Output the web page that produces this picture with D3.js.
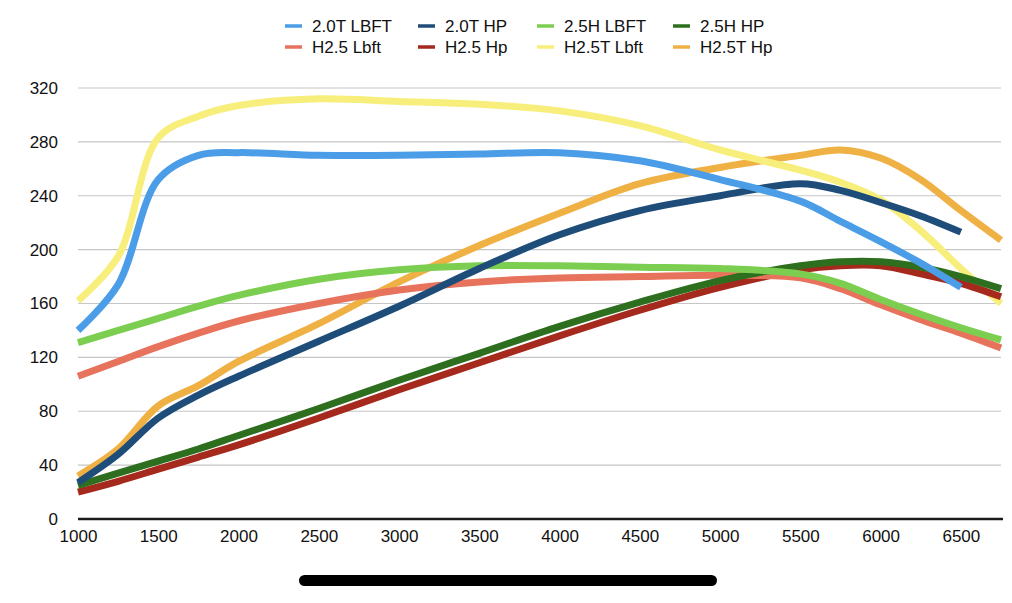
<!DOCTYPE html>
<html>
<head>
<meta charset="utf-8">
<script src="https://cdn.jsdelivr.net/npm/d3@7"></script>
<style>
  html, body { margin: 0; padding: 0; background: #fff; }
  svg { display: block; font-family: "Liberation Sans", Arial, Helvetica, sans-serif; }
</style>
</head>
<body>
<svg id="chart" width="1012" height="603"></svg>
<script>
// ---- data ----
const rpm = [1000, 1250, 1500, 1750, 2000, 2500, 3000, 3500, 4000, 4500, 5000, 5500, 5750, 6000, 6250, 6500, 6750];

const seriesNames = ["2.0T LBFT", "2.0T HP", "2.5H LBFT", "2.5H HP", "H2.5 Lbft", "H2.5 Hp", "H2.5T Lbft", "H2.5T Hp"];
const seriesColors = ["#4a9de6", "#1f4d7a", "#7cce50", "#2e6e1f", "#e8735c", "#a5291c", "#f7ee7c", "#efb044"];

const t20Lbft = [140, 174, 252, 270, 272, 270, 270, 271, 272, 266, 252, 236, 221, 206, 190, 172, null];
const t20Hp   = [27, 48, 75, 92, 106, 132, 158, 186, 211, 229, 240, 249, 244, 235, 225, 213, null];
const h25Lbft = [131, 140, 149, 158, 166, 178, 185, 188, 188, 187, 186, 182, 175, 163, 152, 142, 133];
const h25Hp   = [25, 34, 43, 52, 62, 82, 103, 123, 143, 161, 177, 188, 191, 191, 187, 180, 171];
const h25bLbft = [106, 117, 128, 138, 147, 160, 170, 176, 179, 180, 181, 179, 171, 159, 148, 138, 127];
const h25bHp   = [20, 28, 37, 46, 55, 75, 96, 116, 136, 155, 172, 185, 188, 188, 182, 175, 165];
const h25tLbft = [162, 195, 283, 299, 307, 312, 310, 308, 303, 292, 274, 259, 250, 237, 214, 186, 160];
const h25tHp   = [32, 52, 84, 99, 117, 145, 176, 203, 227, 249, 261, 270, 274, 268, 252, 229, 207];

const seriesValues = [t20Lbft, t20Hp, h25Lbft, h25Hp, h25bLbft, h25bHp, h25tLbft, h25tHp];

const xTicks = [1000, 1500, 2000, 2500, 3000, 3500, 4000, 4500, 5000, 5500, 6000, 6500];
const yTicks = [0, 40, 80, 120, 160, 200, 240, 280, 320];

// ---- layout ----
const svg = d3.select("#chart");
const x = d3.scaleLinear().domain([1000, 6750]).range([78, 1001]);
const y = d3.scaleLinear().domain([0, 320]).range([519, 88]);

// gridlines
svg.append("g")
  .selectAll("line")
  .data(yTicks.filter(d => d > 0))
  .join("line")
  .attr("x1", x(1000)).attr("x2", x(6750))
  .attr("y1", d => y(d)).attr("y2", d => y(d))
  .attr("stroke", "#c6c6c6").attr("stroke-width", 1.2);

// y axis labels
const yAxis = d3.axisLeft(y).tickValues(yTicks).tickSize(0).tickPadding(0);
const gy = svg.append("g").attr("transform", "translate(58,0)").call(yAxis);
gy.select(".domain").remove();
gy.selectAll("text").attr("font-size", 17).attr("fill", "#111").attr("font-family", "Liberation Sans, Arial, sans-serif");

// x axis
const xAxis = d3.axisBottom(x).tickValues(xTicks).tickSize(0).tickPadding(11).tickFormat(d3.format("d"));
const gx = svg.append("g").attr("transform", `translate(0,${y(0)})`).call(xAxis);
gx.select(".domain").remove();
gx.selectAll("text").attr("font-size", 17).attr("fill", "#111").attr("font-family", "Liberation Sans, Arial, sans-serif");

svg.append("line")
  .attr("x1", x(1000)).attr("x2", x(6750) + 2)
  .attr("y1", y(0)).attr("y2", y(0))
  .attr("stroke", "#1a1a1a").attr("stroke-width", 2.6);

// lines (first series drawn on top)
const line = d3.line()
  .defined(d => d[1] != null)
  .x(d => x(d[0]))
  .y(d => y(d[1]))
  .curve(d3.curveCatmullRom.alpha(0.5));

const seriesData = seriesNames.map((name, i) => ({
  name,
  color: seriesColors[i],
  points: rpm.map((r, j) => [r, seriesValues[i][j]])
}));

svg.append("g")
  .selectAll("path")
  .data(seriesData.slice().reverse())
  .join("path")
  .attr("d", d => line(d.points))
  .attr("fill", "none")
  .attr("stroke", d => d.color)
  .attr("stroke-width", 7)
  .attr("stroke-linejoin", "round")
  .attr("stroke-linecap", "butt");

// legend
const legendCols = [285, 418, 537, 673];
const legendRows = [26, 47];
const lg = svg.append("g")
  .selectAll("g")
  .data(seriesData)
  .join("g")
  .attr("transform", (d, i) => `translate(${legendCols[i % 4]},${legendRows[Math.floor(i / 4)]})`);
lg.append("line")
  .attr("x1", 0).attr("x2", 17).attr("y1", 0).attr("y2", 0)
  .attr("stroke", d => d.color).attr("stroke-width", 3.5);
lg.append("text")
  .attr("x", 27).attr("y", 0).attr("dy", "0.35em")
  .attr("font-size", 17).attr("fill", "#111")
  .text(d => d.name);

// home indicator bar
svg.append("rect")
  .attr("x", 299).attr("y", 575).attr("width", 418).attr("height", 11)
  .attr("rx", 5.5).attr("fill", "#000");
</script>
</body>
</html>
